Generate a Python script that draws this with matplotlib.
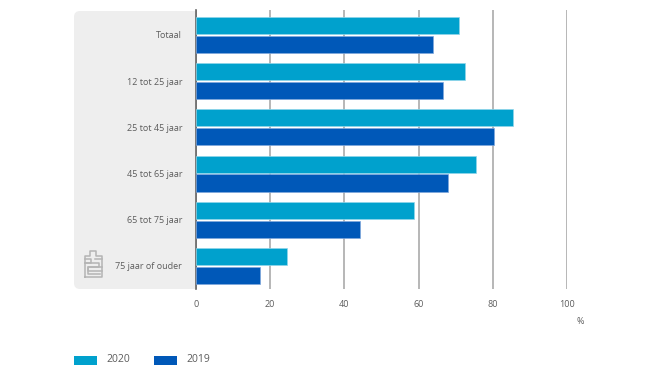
import matplotlib
matplotlib.use('Agg')
import matplotlib.pyplot as plt
from matplotlib.patches import FancyBboxPatch, Rectangle
from matplotlib.lines import Line2D
import numpy as np

plt.rcParams['font.family'] = ['Open Sans', 'DejaVu Sans']

categories = ['Totaal', '12 tot 25 jaar', '25 tot 45 jaar', '45 tot 65 jaar', '65 tot 75 jaar', '75 jaar of ouder']
values_2020 = [70.8, 72.5, 85.5, 75.5, 58.8, 24.5]
values_2019 = [63.8, 66.5, 80.4, 67.9, 44.3, 17.3]
x_ticks = [0, 20, 40, 60, 80, 100]

color_2020 = '#00a1cd'
color_2019 = '#0058b8'
text_color = '#5c5c5c'
W, H = 650, 388

fig = plt.figure(figsize=(6.5, 3.88), dpi=100)

# axes placed in pixels: x 196-567, y 10-289 from the top
ax = fig.add_axes([196 / W, 1 - 289 / H, (567 - 196) / W, (289 - 10) / H])
ax.patch.set_alpha(0)

# grey panel behind the category labels, rounded on the left only
panel = FancyBboxPatch((80, H - 283), 110, 266, boxstyle='round,pad=6,rounding_size=6',
                       transform=None, fc='#eeeeee', ec='none', zorder=-5)
fig.add_artist(panel)
fig.add_artist(Rectangle((180, H - 289), 16, 278, transform=None, fc='#eeeeee', ec='none', zorder=-5))

y = np.arange(len(categories))
ax.barh(y - 0.205, values_2020, height=0.37, color=color_2020, edgecolor='#8fd6ea', linewidth=0.5, zorder=3)
ax.barh(y + 0.205, values_2019, height=0.37, color=color_2019, edgecolor='#7fa8dc', linewidth=0.5, zorder=3)

ax.set_xlim(0, 100)
ax.set_ylim(5.5, -0.54)
ax.set_xticks(x_ticks)
ax.set_yticks(y)
ax.set_yticklabels(categories)
ax.tick_params(axis='y', length=0, pad=10, labelsize=6.5, labelcolor=text_color)
ax.tick_params(axis='x', length=0, pad=8, labelsize=6.5, labelcolor=text_color)
for label in ax.get_yticklabels():
    label.set_y(label.get_position()[1])
    label.set_va('center_baseline')
ax.xaxis.grid(True, color='#a3a3a3', linewidth=1.1, zorder=1)
ax.set_axisbelow(True)
for side in ['top', 'right', 'bottom']:
    ax.spines[side].set_visible(False)
ax.spines['left'].set_color('#666666')
ax.spines['left'].set_linewidth(1.2)

fig.text(580 / W, 1 - 321 / H, '%', ha='center', va='center', fontsize=6.5, color=text_color)

# legend by hand, the swatches sit flush with the panel edge
for x0, col, label in [(74, color_2020, '2020'), (154, color_2019, '2019')]:
    fig.add_artist(Rectangle((x0 / W, 1 - 365 / H), 23 / W, 9 / H, transform=fig.transFigure, fc=col, ec='none'))
    fig.text((x0 + 32) / W, 1 - 359 / H, label, ha='left', va='center', fontsize=7.5, color=text_color)

# small grey logo in the corner of the panel
logo = [([85, 85, 90, 90, 96, 96, 102, 102, 85], [277, 256, 256, 251, 251, 256, 256, 277, 277]),
        ([85, 91, 91, 85], [259, 259, 263, 263]),
        ([95, 102], [259, 259]),
        ([85, 99, 99, 88, 88, 102], [263, 263, 267, 267, 271, 271]),
        ([102, 88, 88, 100], [267, 267, 274, 274])]
for xs, ys in logo:
    fig.add_artist(Line2D([v / W for v in xs], [1 - v / H for v in ys], transform=fig.transFigure,
                          color='#b4b4b4', linewidth=1.1))

fig.savefig('out.png', dpi=100)
